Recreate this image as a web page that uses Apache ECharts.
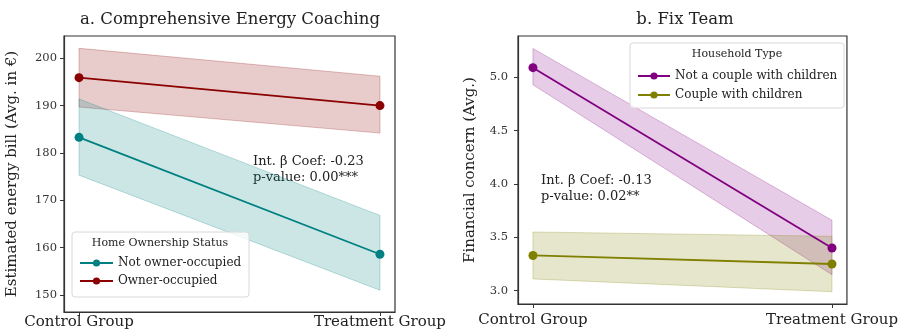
<!DOCTYPE html>
<html><head><meta charset="utf-8">
<script src="https://cdn.jsdelivr.net/npm/echarts@6/dist/echarts.min.js"></script>
<style>html,body{margin:0;padding:0;background:#fff}#c{width:901px;height:330px}</style>
</head><body><div id="c"></div>
<script>
const categories = ['Control Group', 'Treatment Group'];
const xPos = [0, 1];
// Panel a: Home Ownership Status
const notOwnerMean = [183.3, 158.6];
const notOwnerLow = [175.3, 151.0];
const notOwnerHigh = [191.4, 166.8];
const ownerMean = [195.9, 190.0];
const ownerLow = [189.7, 184.2];
const ownerHigh = [202.1, 196.2];
const leftTicks = [150, 160, 170, 180, 190, 200];
// Panel b: Household Type
const notCoupleMean = [5.09, 3.40];
const notCoupleLow = [4.93, 3.15];
const notCoupleHigh = [5.27, 3.66];
const coupleMean = [3.33, 3.25];
const coupleLow = [3.11, 2.99];
const coupleHigh = [3.55, 3.51];
const rightTicks = [3.0, 3.5, 4.0, 4.5, 5.0];

const FONT = 'DejaVu Serif';
const chart = echarts.init(document.getElementById('c'));

function band(name, gi, lo, hi, fill, stroke) {
  return {
    type: 'custom', name: name, xAxisIndex: gi, yAxisIndex: gi, z: 1, silent: true,
    data: xPos.map((x, i) => [x, lo[i], hi[i]]),
    renderItem: function (params, api) {
      if (params.dataIndex !== 0) return null;
      const pts = [
        api.coord([xPos[0], hi[0]]), api.coord([xPos[1], hi[1]]),
        api.coord([xPos[1], lo[1]]), api.coord([xPos[0], lo[0]])
      ];
      return { type: 'polygon', shape: { points: pts }, style: { fill: fill, stroke: stroke, lineWidth: 1 } };
    }
  };
}
function line(name, gi, mean, color) {
  return {
    type: 'line', name: name, xAxisIndex: gi, yAxisIndex: gi, z: 3,
    data: xPos.map((x, i) => [x, mean[i]]),
    symbol: 'circle', symbolSize: 9, color: color,
    lineStyle: { width: 1.8, color: color }, itemStyle: { color: color },
    animation: false
  };
}
function xAxis(gi, margin) {
  return {
    type: 'value', gridIndex: gi, min: -0.05, max: 1.05,
    axisLine: { show: true, onZero: false, lineStyle: { color: '#333', width: 1.2 } },
    axisTick: { show: true, length: 4, customValues: xPos, lineStyle: { color: '#333' } },
    axisLabel: { customValues: xPos, formatter: v => categories[Math.round(v)], fontFamily: FONT, fontSize: 15, color: '#222', margin: margin },
    splitLine: { show: false }
  };
}
function yAxis(gi, min, max, ticks, name, gap, fmt, margin) {
  return {
    type: 'value', gridIndex: gi, min: min, max: max,
    name: name, nameLocation: 'middle', nameGap: gap,
    nameTextStyle: { fontFamily: FONT, fontSize: 15, color: '#222' },
    axisLine: { show: true, onZero: false, lineStyle: { color: '#333', width: 1.2 } },
    axisTick: { show: true, length: 4, customValues: ticks, lineStyle: { color: '#333' } },
    axisLabel: { customValues: ticks, formatter: fmt, fontFamily: FONT, fontSize: 11.5, color: '#333', margin: margin },
    splitLine: { show: false }
  };
}

const option = {
  animation: false,
  grid: [
    { left: 64, top: 36, width: 331, height: 277, show: true, borderColor: '#333', borderWidth: 1.2, backgroundColor: 'transparent' },
    { left: 518, top: 36, width: 334, height: 268, show: true, borderColor: '#333', borderWidth: 1.2, backgroundColor: 'transparent' }
  ],
  xAxis: [xAxis(0, 3), xAxis(1, 9)],
  yAxis: [
    yAxis(0, 146.4, 204.7, leftTicks, 'Estimated energy bill (Avg. in €)', 44, v => String(v), 7),
    yAxis(1, 2.875, 5.387, rightTicks, 'Financial concern (Avg.)', 40, v => v.toFixed(1), 10)
  ],
  legend: [
    { left: 74, top: 252, orient: 'vertical', itemWidth: 33, itemHeight: 9, itemGap: 6,
      data: ['Not owner-occupied', 'Owner-occupied'], z: 5,
      textStyle: { fontFamily: FONT, fontSize: 12, color: '#222' } },
    { left: 632, top: 65, orient: 'vertical', itemWidth: 32, itemHeight: 9, itemGap: 7,
      data: ['Not a couple with children', 'Couple with children'], z: 5,
      textStyle: { fontFamily: FONT, fontSize: 12, color: '#222' } }
  ],
  graphic: [
    { type: 'text', x: 230, y: 20, style: { text: 'a. Comprehensive Energy Coaching', fontFamily: FONT, fontSize: 16.5, fill: '#222', align: 'center', verticalAlign: 'middle' } },
    { type: 'text', x: 685, y: 20, style: { text: 'b. Fix Team', fontFamily: FONT, fontSize: 16.5, fill: '#222', align: 'center', verticalAlign: 'middle' } },
    { type: 'text', x: 253, y: 162, style: { text: 'Int. β Coef: -0.23', fontFamily: FONT, fontSize: 13, fill: '#222', verticalAlign: 'middle' } },
    { type: 'text', x: 253, y: 178, style: { text: 'p-value: 0.00***', fontFamily: FONT, fontSize: 13, fill: '#222', verticalAlign: 'middle' } },
    { type: 'text', x: 541, y: 181, style: { text: 'Int. β Coef: -0.13', fontFamily: FONT, fontSize: 13, fill: '#222', verticalAlign: 'middle' } },
    { type: 'text', x: 541, y: 197, style: { text: 'p-value: 0.02**', fontFamily: FONT, fontSize: 13, fill: '#222', verticalAlign: 'middle' } },
    { type: 'rect', z: 4, shape: { x: 72, y: 232, width: 177, height: 65, r: 3 }, style: { fill: 'rgba(255,255,255,0.8)', stroke: '#d8d8d8', lineWidth: 1 } },
    { type: 'text', z: 5, x: 160, y: 243, style: { text: 'Home Ownership Status', fontFamily: FONT, fontSize: 11, fill: '#222', align: 'center', verticalAlign: 'middle' } },
    { type: 'rect', z: 4, shape: { x: 630, y: 43, width: 214, height: 65, r: 3 }, style: { fill: 'rgba(255,255,255,0.8)', stroke: '#d8d8d8', lineWidth: 1 } },
    { type: 'text', z: 5, x: 737, y: 54, style: { text: 'Household Type', fontFamily: FONT, fontSize: 11, fill: '#222', align: 'center', verticalAlign: 'middle' } }
  ],
  series: [
    band('band-owner', 0, ownerLow, ownerHigh, 'rgba(139,0,0,0.2)', 'rgba(139,0,0,0.25)'),
    band('band-notowner', 0, notOwnerLow, notOwnerHigh, 'rgba(0,128,128,0.2)', 'rgba(0,128,128,0.25)'),
    line('Not owner-occupied', 0, notOwnerMean, '#008080'),
    line('Owner-occupied', 0, ownerMean, '#8B0000'),
    band('band-notcouple', 1, notCoupleLow, notCoupleHigh, 'rgba(128,0,128,0.2)', 'rgba(128,0,128,0.25)'),
    band('band-couple', 1, coupleLow, coupleHigh, 'rgba(128,128,0,0.2)', 'rgba(128,128,0,0.25)'),
    line('Not a couple with children', 1, notCoupleMean, '#800080'),
    line('Couple with children', 1, coupleMean, '#808000')
  ]
};
chart.setOption(option);
</script>
</body></html>
